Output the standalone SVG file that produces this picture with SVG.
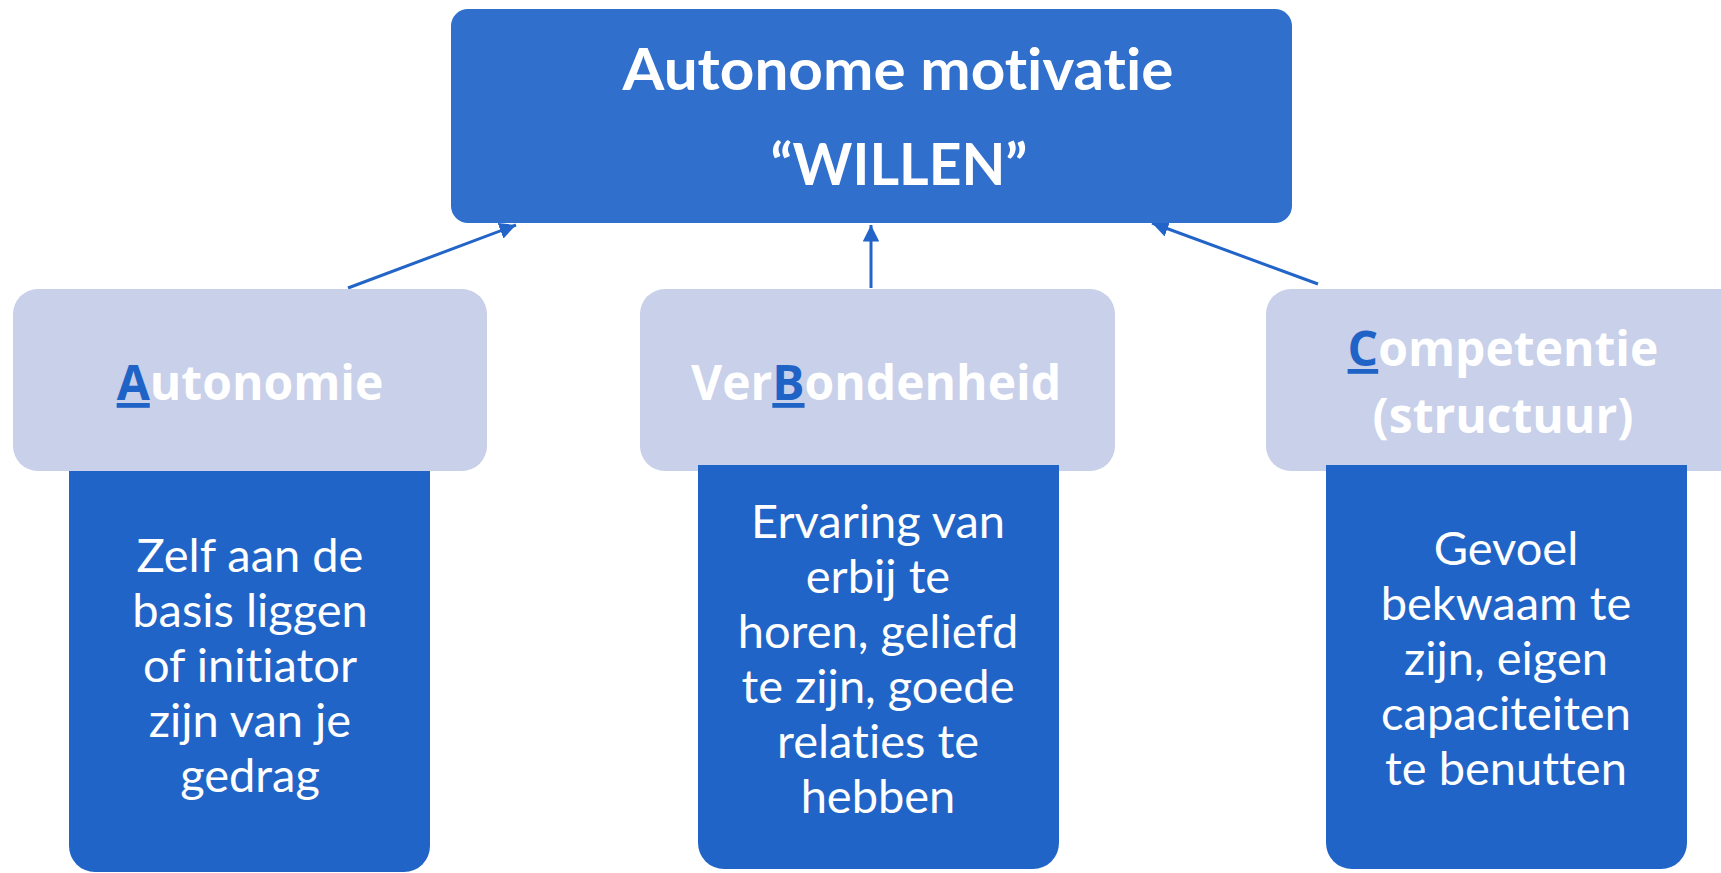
<svg xmlns="http://www.w3.org/2000/svg" width="1721" height="873" viewBox="0 0 1721 873">
<defs>
<marker id="arr" viewBox="0 0 10 10" refX="10" refY="5" markerWidth="5.5" markerHeight="5.5" orient="auto" markerUnits="strokeWidth">
<path d="M0,0 L10,5 L0,10 Z" fill="#2264C8"/>
</marker>
<style>
text{font-variant-ligatures:none;font-feature-settings:"liga" 0,"clig" 0}
.top{fill:#306FCB}
.light{fill:#C8D0EA}
.dark{fill:#2164C8}
.title{font-family:Lato,"Liberation Sans",sans-serif;font-weight:bold;font-size:57px;fill:#FFFFFF;text-anchor:middle}
.head{font-family:"Open Sans","Liberation Sans",sans-serif;font-weight:bold;font-size:48px;fill:#FFFFFF;text-anchor:middle}
.hl{fill:#1F63C6;text-decoration:underline}
.body{font-family:Lato,"Liberation Sans",sans-serif;font-size:47px;fill:#FFFFFF;text-anchor:middle}
.conn{stroke:#2264C8;stroke-width:3;fill:none}
</style>
</defs>
<rect width="1721" height="873" fill="#FFFFFF"/>
<g id="connectors">
<line class="conn" x1="348" y1="288" x2="516" y2="225" marker-end="url(#arr)"/>
<line class="conn" x1="871" y1="288" x2="871" y2="225" marker-end="url(#arr)"/>
<line class="conn" x1="1318" y1="284" x2="1152" y2="223" marker-end="url(#arr)"/>
</g>
<g id="motivatie">
<rect class="top" x="451" y="9" width="841" height="214" rx="17"/>
<text class="title" x="898" y="90" textLength="551" lengthAdjust="spacingAndGlyphs">Autonome motivatie</text>
<text class="title" x="899" y="185">“WILLEN”</text>
</g>
<g id="autonomie">
<rect class="light" x="13" y="289" width="474" height="182" rx="25"/>
<text class="head" x="250" y="400"><tspan class="hl">A</tspan>utonomie</text>
</g>
<g id="verbondenheid">
<rect class="light" x="640" y="289" width="475" height="182" rx="25"/>
<text class="head" x="876" y="400">Ver<tspan class="hl">B</tspan>ondenheid</text>
</g>
<g id="competentie">
<rect class="light" x="1266" y="289" width="480" height="182" rx="25"/>
<text class="head" x="1503" y="366"><tspan class="hl">C</tspan>ompetentie</text>
<text class="head" x="1503" y="433">(structuur)</text>
</g>
<g id="autonomie-uitleg">
<path class="dark" d="M69,471 H430 V846 A26,26 0 0 1 404,872 H95 A26,26 0 0 1 69,846 Z"/>
<text class="body" x="250" y="572">Zelf aan de</text>
<text class="body" x="250" y="627">basis liggen</text>
<text class="body" x="250" y="682">of initiator</text>
<text class="body" x="250" y="737">zijn van je</text>
<text class="body" x="250" y="792">gedrag</text>
</g>
<g id="verbondenheid-uitleg">
<path class="dark" d="M698,465 H1059 V843 A26,26 0 0 1 1033,869 H724 A26,26 0 0 1 698,843 Z"/>
<text class="body" x="878" y="538">Ervaring van</text>
<text class="body" x="878" y="593">erbij te</text>
<text class="body" x="878" y="648">horen, geliefd</text>
<text class="body" x="878" y="703">te zijn, goede</text>
<text class="body" x="878" y="758">relaties te</text>
<text class="body" x="878" y="813">hebben</text>
</g>
<g id="competentie-uitleg">
<path class="dark" d="M1326,465 H1687 V843 A26,26 0 0 1 1661,869 H1352 A26,26 0 0 1 1326,843 Z"/>
<text class="body" x="1506" y="565">Gevoel</text>
<text class="body" x="1506" y="620">bekwaam te</text>
<text class="body" x="1506" y="675">zijn, eigen</text>
<text class="body" x="1506" y="730">capaciteiten</text>
<text class="body" x="1506" y="785">te benutten</text>
</g>
</svg>
